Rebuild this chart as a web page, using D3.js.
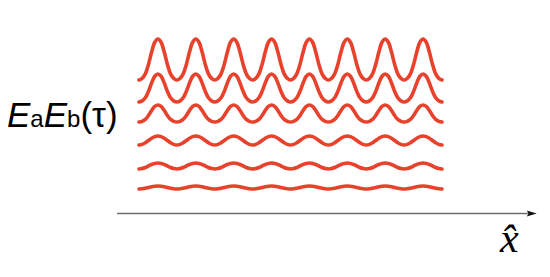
<!DOCTYPE html>
<html>
<head>
<meta charset="utf-8">
<script src="https://cdn.jsdelivr.net/npm/d3@7"></script>
<style>
  html, body { margin: 0; padding: 0; background: #fff; }
  svg { display: block; }
</style>
</head>
<body>
<svg id="chart" width="550" height="277"></svg>
<script>
// ---- data ----
const curveNames = ["c1", "c2", "c3", "c4", "c5", "c6"];
const troughValues = [6.65, 5.55, 4.55, 3.4, 2.2, 1.2];
const peakValues   = [8.7, 6.95, 5.4, 3.85, 2.5, 1.35];
const periodCount = 8;
// one period of the wave shape (0 = trough, 1 = peak)
const sharpProfile  = [0, 0.04, 0.15, 0.38, 0.68, 0.92, 1, 0.92, 0.68, 0.38, 0.15, 0.04];
const smoothProfile = [0, 0.07, 0.25, 0.5, 0.75, 0.93, 1, 0.93, 0.75, 0.5, 0.25, 0.07];
const profileForCurve = ["sharp", "sharp", "sharp", "smooth", "smooth", "smooth"];
const axisExtent = [-0.58, 10.5];

// ---- layout ----
const svg = d3.select("#chart");
const x = d3.scaleLinear().domain([0, periodCount]).range([139, 442]);
const y = d3.scaleLinear().domain([0, 10]).range([213, 13]);

const line = d3.line()
  .x(d => x(d.t))
  .y(d => y(d.v))
  .curve(d3.curveCatmullRom.alpha(0.5));

curveNames.forEach((name, i) => {
  const prof = profileForCurve[i] === "sharp" ? sharpProfile : smoothProfile;
  const pts = [];
  for (let p = 0; p < periodCount; p++) {
    prof.forEach((f, k) => {
      pts.push({ t: p + k / prof.length, v: troughValues[i] + f * (peakValues[i] - troughValues[i]) });
    });
  }
  pts.push({ t: periodCount, v: troughValues[i] + prof[0] * (peakValues[i] - troughValues[i]) });
  svg.append("path")
    .datum(pts)
    .attr("fill", "none")
    .attr("stroke", "#e8412c")
    .attr("stroke-width", 3.6)
    .attr("stroke-linejoin", "round")
    .attr("stroke-linecap", "round")
    .attr("d", line);
});

// axis arrow
const ay = 213.5;
const ax0 = x(axisExtent[0]), ax1 = x(axisExtent[1]);
svg.append("line")
  .attr("x1", ax0).attr("x2", ax1 - 6)
  .attr("y1", ay).attr("y2", ay)
  .attr("stroke", "#6e6e6e")
  .attr("stroke-width", 1.6);
svg.append("path")
  .attr("d", `M${ax1},${ay} L${ax1 - 10},${ay - 3} L${ax1 - 8},${ay} L${ax1 - 10},${ay + 3} Z`)
  .attr("fill", "#111");

// x label
svg.append("text")
  .attr("x", 500).attr("y", 252)
  .attr("font-family", "Liberation Serif, Times New Roman, serif")
  .attr("font-style", "italic")
  .attr("font-size", 42)
  .attr("fill", "#000")
  .text("x\u0302");

// y label
const lab = svg.append("text")
  .attr("x", 7).attr("y", 127)
  .attr("font-family", "Liberation Sans, Arial, sans-serif")
  .attr("font-size", 35)
  .attr("fill", "#000");
lab.append("tspan").attr("font-style", "italic").text("E");
lab.append("tspan").attr("font-size", 24).text("a");
lab.append("tspan").attr("font-style", "italic").text("E");
lab.append("tspan").attr("font-size", 24).text("b");
lab.append("tspan").text("(τ)");
</script>
</body>
</html>
